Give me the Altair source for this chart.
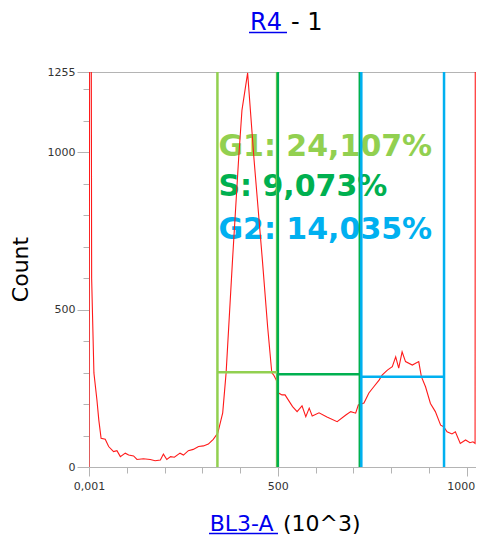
import altair as alt
import pandas as pd

# Histogram (BL3-A in 10^3 units, counts)
hist_x = [0, 4, 7, 13, 21, 26, 32, 43, 52, 65, 74, 83, 96, 105, 118, 127, 144, 162, 175, 189,
          197, 206, 216, 226, 241, 250, 263, 276, 290, 303, 316, 329, 341, 354, 363, 380, 396,
          405, 420, 437, 459, 473, 484, 489, 496, 502, 511, 519, 539, 551, 564, 574, 583, 591,
          609, 630, 657, 680, 693, 706, 713, 728, 741, 754, 768, 776, 790, 803, 812, 820, 829,
          838, 856, 873, 880, 891, 904, 917, 931, 939, 948, 961, 970, 983, 997, 1014, 1027,
          1036, 1038]
hist_y = [0, 3000, 600, 299, 213, 149, 91, 88, 65, 49, 52, 33, 44, 38, 35, 24, 26, 24, 20, 22,
          41, 24, 33, 31, 44, 38, 52, 56, 65, 67, 73, 88, 108, 172, 299, 658, 976,
          1134, 1252, 976, 658, 445, 299, 292, 276, 235, 229, 229, 192, 176, 194, 160, 187, 162,
          172, 159, 144, 165, 176, 171, 197, 203, 235, 255, 276, 292, 308, 319, 350, 314, 366,
          335, 324, 335, 287, 255, 202, 176, 133, 128, 112, 105, 112, 75, 86, 77, 80,
          75, 3000]

# Gates
gate_names = ["G1", "S", "G2"]
gate_lo = [340, 500, 721]
gate_hi = [498, 717, 940]
gate_level = [301, 295, 287]
gate_colors = ["#92D050", "#00B050", "#00B0F0"]
gate_labels = ["G1: 24,107%", "S: 9,073%", "G2: 14,035%"]
label_y = [988, 861, 724]

x_ticks = list(range(0, 1001, 100))
y_ticks = list(range(0, 1201, 100)) + [1255]

W, H = 387, 395
YMAX = 1255
FONT = "DejaVu Sans"
AXIS_GRAY = "#b4b4b4"

hist = pd.DataFrame({"x": hist_x, "y": hist_y})
gates = pd.DataFrame({"name": gate_names, "lo": gate_lo, "hi": gate_hi,
                      "level": gate_level, "color": gate_colors})
vlines = pd.DataFrame({
    "x": [v for pair in zip(gate_lo, gate_hi) for v in pair],
    "color": [c for c in gate_colors for _ in range(2)],
})
labels = pd.DataFrame({"t": gate_labels, "x": [gate_lo[0]] * 3, "y": label_y,
                       "color": gate_colors})

# piecewise x scale: 0..1000 at full resolution, short tail to the right edge
xscale = alt.Scale(domain=[0, 1000, 1040], range=[0, 377.7, W], nice=False, zero=False)
yscale = alt.Scale(domain=[0, YMAX], nice=False, zero=False)

xaxis = alt.Axis(
    values=x_ticks, title=None, grid=False,
    labelExpr="datum.value == 0 ? '0,001' : (datum.value % 500 == 0 ? datum.label : '')",
    format="d", labelOverlap=False, labelFlush=False,
    labelAlign={"condition": {"test": "datum.value == 1000", "value": "right"}, "value": "center"},
    labelOffset={"condition": {"test": "datum.value == 1000", "value": 8}, "value": 0},
    tickSize={"condition": {"test": "datum.value % 500 == 0", "value": 9}, "value": 6},
    domainColor=AXIS_GRAY, tickColor=AXIS_GRAY, labelColor="#333333",
    labelFont=FONT, labelFontSize=11, labelPadding=4,
)
yaxis = alt.Axis(
    values=y_ticks, title=None, grid=False,
    labelExpr="(datum.value % 500 == 0 || datum.value == 1255) ? datum.label : ''",
    format="d", labelOverlap=False, labelFlush=False,
    tickSize={"condition": {"test": "datum.value % 500 == 0 || datum.value == 1255", "value": 12},
              "value": 6},
    domainColor=AXIS_GRAY, tickColor=AXIS_GRAY, labelColor="#333333",
    labelFont=FONT, labelFontSize=11, labelPadding=2,
)

def X(field):
    return alt.X(field, scale=xscale, axis=xaxis)

def Y(field):
    return alt.Y(field, scale=yscale, axis=yaxis)

text_layer = alt.Chart(labels).mark_text(
    font=FONT, fontSize=30, fontWeight="bold", align="left", baseline="alphabetic", dx=1
).encode(
    x=X("x:Q"),
    y=Y("y:Q"),
    text="t:N",
    color=alt.Color("color:N", scale=None),
)

curve = alt.Chart(hist).mark_line(color="#ff1a1a", strokeWidth=1.1, clip=True).encode(
    x=X("x:Q"),
    y=Y("y:Q"),
)

vrules = alt.Chart(vlines).mark_rule(strokeWidth=2.5).encode(
    x=X("x:Q"),
    color=alt.Color("color:N", scale=None),
)

hrules = alt.Chart(gates).mark_rule(strokeWidth=2.5).encode(
    x=X("lo:Q"),
    x2="hi:Q",
    y=Y("level:Q"),
    color=alt.Color("color:N", scale=None),
)

top_border = alt.Chart(pd.DataFrame({"a": [0]})).mark_rule(color=AXIS_GRAY, strokeWidth=1).encode(
    x=alt.value(0), x2=alt.value(W), y=alt.value(0.5))

def txt(s, x, y, size, color, align="left", angle=0):
    return alt.Chart(pd.DataFrame({"t": [s]})).mark_text(
        font=FONT, fontSize=size, color=color, align=align, baseline="alphabetic", angle=angle
    ).encode(text="t:N", x=alt.value(x), y=alt.value(y))

def uline(x1, x2, y):
    return alt.Chart(pd.DataFrame({"a": [0]})).mark_rule(color="#0000ee", strokeWidth=1.5).encode(
        x=alt.value(x1), x2=alt.value(x2), y=alt.value(y))

title_r4 = txt("R4", 161, -42, 24, "#0000ee")
title_r4_u = uline(160, 198, -39.5)
title_rest = txt("- 1", 233.5, -42, 24, "#000000", align="right")
xt_a = txt("BL3-A", 120.7, 459, 22, "#0000ee")
xt_a_u = uline(120, 189, 461.5)
xt_b = txt("(10^3)", 194, 459, 22, "#000000")
yt = txt("Count", -61, 197.5, 22, "#000000", align="center", angle=270)

chart = alt.layer(
    text_layer, top_border, curve, vrules, hrules,
    title_r4, title_r4_u, title_rest, xt_a, xt_a_u, xt_b, yt,
).properties(
    width=W, height=H,
    autosize=alt.AutoSizeParams(type="none"),
    padding={"left": 81, "top": 64, "right": 0, "bottom": 68},
).configure_view(stroke=None)

chart.save("out.html", embed_options={"renderer": "svg", "actions": False})
